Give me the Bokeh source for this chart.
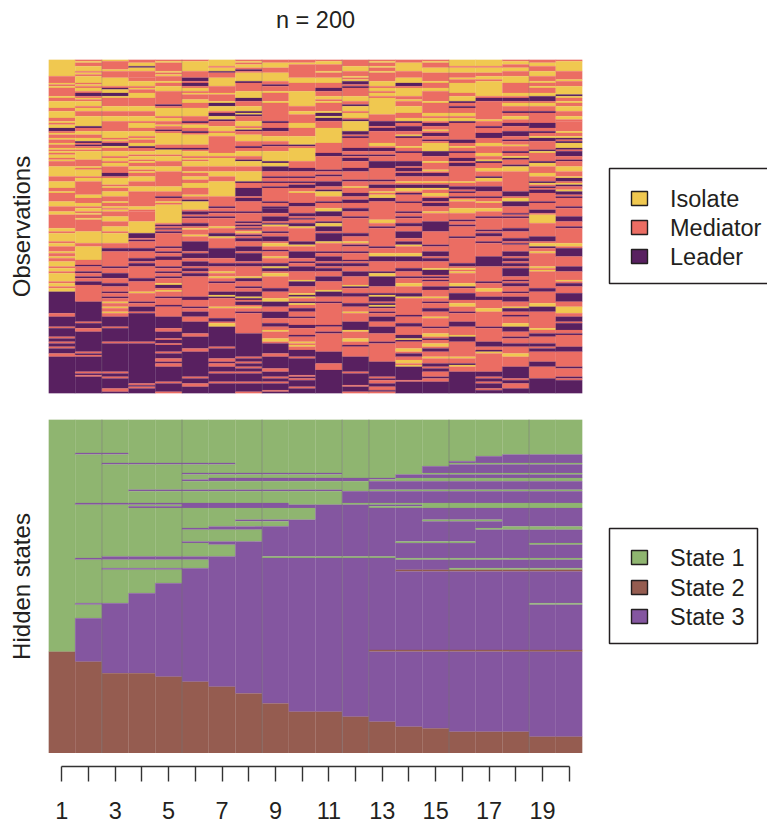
from bokeh.plotting import figure
from bokeh.layouts import column, row
from bokeh.models import ColumnDataSource, FixedTicker, LinearAxis, Range1d
from bokeh.core.properties import value
from bokeh.embed import file_html
from bokeh.resources import INLINE

# Each token: state letter + the row (of 200, counted from the top) at which that run ends.
obs_names = ["Isolate", "Mediator", "Leader"]
obs_colors = ["#F0C850", "#EB6D63", "#582060"]
hid_names = ["State 1", "State 2", "State 3"]
hid_colors = ["#8FB570", "#955C50", "#8456A0"]
title_text = ["n = 200"]

obs_01 = "I10 M14 I15 M16 I17 M22 I23 M25 I29 M31 I35 M37 I38 M39 I41 L43 M44 I45 M47 I48 M50 I51 M53 I54 M55 I56 M57 I59 M60 I61 M64 I70 M73 I77 M79 I80 M85 I88 M91 I93 M101 I103 M104 I109 M110 I112 M115 I116 M118 I119 M121 I124 M125 I127 M128 I133 M134 I136 M137 I139 L152 M154 L160 M161 L166 M167 L169 M170 L172 M173 L176 M178 L200"
obs_02 = "M1 I2 M4 I7 M8 I9 M10 I14 M15 I16 M17 I19 M20 L22 M23 I24 M25 I28 M29 I31 M34 I40 L41 M43 I45 M47 I49 L50 M51 L52 M53 I54 M55 I60 M64 I65 M66 I70 M71 I73 M81 I83 M86 I88 M89 I91 M92 I93 M95 I96 M103 I110 M112 I120 M123 L124 M127 L128 M130 L131 M133 L135 M145 L157 M158 L161 M163 L175 M176 L177 M178 L187 M188 L189 M190 L200"
obs_03 = "I1 M6 I7 M11 I16 M17 L18 I20 L22 I23 M28 I31 M34 I37 M43 I47 M48 I49 M50 L52 I53 M55 I58 M59 I61 M62 I64 M68 L70 M71 I75 M76 I77 M79 I82 M85 I86 M88 I89 M90 I91 M94 I97 M100 I103 M104 I110 M113 L115 M124 L125 M128 L131 M134 L136 M139 L140 M142 L143 M145 I146 M148 I149 M151 I152 M154 L160 M161 L169 M170 L187 M188 L190 M191 L197 M199 L200"
obs_04 = "M2 I4 L5 I7 M11 M13 I16 M17 I18 M20 I23 M28 I31 M34 I37 M38 I41 M43 I46 M47 I48 M50 I52 L53 M55 I57 M58 I60 M61 I62 M64 I66 M67 I68 M70 I73 M76 I79 M80 M88 I90 M91 M97 I104 L107 M108 L109 M113 L115 M119 L121 M122 L124 M131 L133 M139 I140 M145 L146 M148 L151 M152 L169 M170 L194 M195 L196 M197 L200"
obs_05 = "M1 I2 M7 I8 M9 I10 M13 I14 M16 I19 M27 L28 M29 I34 M35 I37 M39 I40 M42 L43 M44 I51 M53 L54 I57 M58 I61 M64 I67 M76 I79 M82 L83 M85 I86 M87 I98 M99 L100 M101 L102 M103 L104 M112 L113 M115 L116 M118 L120 M124 L125 M127 L128 M130 L131 M134 I135 L137 M138 I139 M142 L143 M147 L148 M154 L161 M163 L167 M168 L170 M171 L175 M176 L179 M181 L182 M184 L193 M194 L199 M200"
obs_06 = "M1 I7 M11 L13 M14 L16 M17 I19 M20 I21 M24 I26 M29 I34 M37 L38 M39 I41 M43 L44 M45 I51 M53 L54 M55 I58 M59 I60 M61 I64 M67 I68 M70 I72 M74 I77 M81 I82 M84 L85 I90 M91 L93 M94 L95 M98 L100 M101 I102 M105 I106 M109 L115 M116 L119 M121 L124 M125 L127 M128 L130 M142 L144 M148 L149 M151 L154 M157 L164 M166 L173 M175 L190 M191 L194 M196 L200"
obs_07 = "I4 M5 I7 L8 M11 I16 M20 I21 M25 I26 L28 I31 M32 L34 I36 L37 M40 I43 M44 I46 M56 I58 M59 I64 M67 I70 M73 I82 M88 L89 M91 L92 M94 L95 M100 I101 M104 L106 I107 M113 L119 M122 L124 M127 I128 M130 I131 M133 L134 M139 L141 I142 L143 M148 I149 M155 L157 M158 I160 L172 M173 L179 M181 L182 M184 L187 M188 L193 M194 L200"
obs_08 = "M1 I2 M3 I5 M6 L7 M8 I13 L14 M19 I23 L25 M28 I31 L32 I33 L34 M37 I40 M41 I42 L43 M45 I49 M52 L53 M55 I58 M60 L61 I64 M67 I73 L74 M77 L82 M83 L85 M91 L92 M97 L98 M99 L100 M101 L102 M103 I104 M105 L106 M107 L109 M112 L115 M116 L121 M122 L124 M130 I131 L133 M136 L137 M139 L142 I143 L144 M145 L147 M148 I149 M151 L152 M164 L178 M179 L181 M182 L184 M185 L187 M188 L193 M194 L199 M200"
obs_09 = "M2 I5 M8 I13 M15 L16 M19 I20 M25 I26 M37 L38 M41 L43 M46 I49 M51 L52 M55 I61 L62 I64 L67 M70 L71 M73 L74 M76 L77 M85 L86 M88 L89 L92 M94 L97 M98 L99 I100 M103 L104 M106 L109 M110 I112 M114 L115 M118 I119 M122 L124 I125 L127 M128 I130 M137 L139 M143 I145 L148 M151 L155 M158 L160 M162 I163 M167 I169 M170 L176 M178 L185 M187 L190 M191 L193 M194 L198 M199 L200"
obs_10 = "M2 I3 M11 I14 M19 I28 M31 I33 M38 I41 M46 I51 L52 M53 I61 M65 L67 M70 L71 M73 L74 M75 L77 M79 I80 M86 L88 M92 L94 M95 L96 M98 L100 I101 M109 L111 I112 M115 L119 M121 L122 M124 L127 M132 I133 L136 M140 I141 L142 I143 M145 L146 I147 M149 L151 M154 L155 M159 L161 M165 L166 M169 I170 M171 I172 M174 L178 M179 L189 M190 L191 M192 L196 M197 L200"
obs_11 = "M1 I3 M7 I8 M11 I14 M17 L19 M22 I24 M25 I26 M31 I32 L34 I35 L37 M41 I50 M56 L58 M66 L67 M69 L70 M73 L76 M78 L79 I82 M85 L86 M89 I91 L94 M97 L98 I100 L103 M104 L109 I110 M115 L116 M118 L121 M122 L124 M125 L127 M130 L133 M138 I139 L142 M145 L146 M159 L160 M163 L164 M175 L182 M186 L200"
obs_12 = "M4 I7 M10 I11 M12 I13 L15 M16 L17 M22 I25 M27 L28 I31 M32 I35 M36 L37 I43 L45 M46 L47 M53 L55 M57 L58 M59 L61 M65 L67 M72 L73 M76 I77 M80 L82 M84 L86 M89 L91 M94 L95 M104 L106 M109 I110 M111 L112 M115 L116 M120 L121 M122 L124 M127 L130 M135 I136 L137 M140 L142 M146 L148 M151 I152 M157 L162 I163 M167 I169 M171 L172 M178 L187 M188 L195 M196 L199 M200"
obs_13 = "M1 I2 M4 I5 M7 I8 M13 I16 M17 I19 M20 I22 M23 I33 M37 L40 M41 L43 M50 I52 M53 L55 M57 L58 M61 L65 M72 L73 M75 L77 M79 I80 M81 I83 L85 M96 I98 M100 L101 M112 L113 M116 I118 L121 M127 L128 I130 L136 M140 L141 I142 L145 M146 L147 I148 L149 M151 L152 M154 L157 M160 L164 M169 L170 M181 L190 M191 L192 M194 L196 M198 L199 M200"
obs_14 = "M2 I7 M11 I14 L16 M17 I22 M24 I25 M28 I32 M35 I37 L38 M40 L43 M45 I46 L47 M52 I53 M55 L56 M61 L64 M65 L67 M68 L70 M73 I74 M75 L77 I79 M80 L81 M85 L86 M91 L92 M94 L95 M98 L100 M103 L107 M109 L111 I112 M116 I118 L121 M125 L127 M130 L131 M134 I136 M140 L142 I143 M153 L154 M158 L160 M165 L167 I168 L169 M173 I175 M176 L178 M180 I182 M183 I184 L192 M193 L200"
obs_15 = "M1 I2 M5 I8 M13 I14 M17 I19 M25 I26 M32 I34 M35 I37 M38 L40 M42 I43 M44 L46 M48 L49 M50 I55 L58 M61 I62 M66 I67 M68 L70 M73 I74 M75 L77 I78 M80 I82 M83 L85 M86 L88 M91 I92 M97 L103 M111 L112 M115 L118 M119 L121 M125 I126 L129 M130 L131 M132 L133 M136 L138 M142 I143 M145 L146 M149 L151 M154 I155 M160 L161 M164 I166 M167 L168 M170 I172 M173 L175 M178 I179 M182 L184 M185 L187 M190 L191 M193 L200"
obs_16 = "I4 M5 I8 M11 I12 M14 I20 M22 I25 L26 M28 L29 M32 I34 M35 I37 L38 M48 L50 M52 I53 M55 L56 M59 L61 M62 L64 M73 I74 M76 L78 M79 L80 M82 L83 M84 I85 M89 I92 M96 L97 M99 L100 M106 L107 M122 L124 M125 I126 M127 I128 M134 I136 L137 M140 L144 M146 I148 M151 L152 M157 L160 M165 I166 L169 M178 I179 M182 L183 I184 M187 L200"
obs_17 = "I4 M5 I8 M10 I12 M13 I22 M23 L25 M36 I37 M40 L41 M44 L47 M50 I52 M56 I58 M60 I61 L62 M65 I67 M70 L71 I73 M76 L79 M82 L83 M85 I86 M89 I91 M94 L95 M102 L103 M104 L106 M109 L110 M118 L124 M133 L134 M137 I139 M142 L144 M149 I151 M160 L161 M169 L172 M174 L175 I176 M187 L190 M191 L193 M194 L197 M198 L200"
obs_18 = "M1 I3 M5 I7 M10 I14 M20 I22 M23 L25 M26 I28 M31 L32 M34 I36 M38 L40 M43 L46 M48 L49 M51 I52 M55 L56 M58 I59 L60 M63 L64 I67 M79 L82 M83 I85 L88 M92 L93 M94 L95 M101 L103 M107 L109 M110 L111 M115 L118 M119 L121 M122 L124 M125 L130 M132 L133 M134 L136 M139 L140 M142 L145 M148 I149 L151 M153 L154 M158 I160 L163 M166 L167 M170 L172 M176 I178 M184 L191 M192 L194 M197 L200"
obs_19 = "M2 I4 M7 I10 M13 I14 M16 I17 M20 I22 L25 M26 I28 M31 L32 M38 L41 M43 L44 M46 I47 L49 M54 L55 I56 M61 L62 I64 M68 I70 M73 L74 I75 M76 L77 M78 L80 M85 L86 M90 L92 M93 I98 M106 L109 M110 I112 L113 M115 I116 M124 I125 M126 I127 M137 L139 M146 I148 L151 M161 I162 M164 L166 M170 L172 M173 L175 M181 L184 M191 L200"
obs_20 = "M1 I7 M12 I13 M16 I21 L22 I23 M25 I26 M28 I31 M34 I36 M37 M43 I44 M46 I47 L48 M49 L50 I53 L54 M55 L58 M60 L61 M64 I67 M70 I71 L73 M74 I75 L76 M78 I79 L81 M82 L83 M88 L89 M94 L97 M100 L101 M110 I112 M113 L118 M124 L127 M132 I133 M134 L136 M140 L145 M148 I152 M154 L157 M158 L162 M164 L165 M172 L175 M184 L185 M190 L191 M192 L200"
obs_columns = [obs_01, obs_02, obs_03, obs_04, obs_05, obs_06, obs_07, obs_08, obs_09, obs_10,
               obs_11, obs_12, obs_13, obs_14, obs_15, obs_16, obs_17, obs_18, obs_19, obs_20]

hid_01 = "A139 B200"
hid_02 = "A20 C21 A50 C51 A83 C84 A110 C111 A119 C145 B200"
hid_03 = "A20 C21 A26 C27 A50 C51 A82 C84 A89 C90 A110 C152 B200"
hid_04 = "A26 C27 A42 C43 A50 C51 A52 C53 A82 C84 A89 C90 A104 C152 B200"
hid_05 = "A26 C27 A42 C43 A50 C51 A52 C53 A82 C84 A89 C90 A98 C154 B200"
hid_06 = "A26 C27 A32 C33 A36 C37 A42 C43 A50 C53 A65 C66 A73 C74 A82 C84 A89 C157 B200"
hid_07 = "A26 C27 A32 C33 A35 C37 A42 C43 A50 C53 A64 C66 A73 C75 A82 C160 B200"
hid_08 = "A32 C33 A35 C37 A42 C43 A50 C53 A60 C61 A64 C66 A73 C164 B200"
hid_09 = "A32 C33 A35 C37 A42 C43 A50 C53 A60 C61 A64 C82 A83 C170 B200"
hid_10 = "A32 C33 A35 C37 A42 C43 A51 C53 A60 C82 A83 C175 B200"
hid_11 = "A32 C33 A35 C37 A42 C43 A51 C82 A83 C175 B200"
hid_12 = "A35 C37 A43 C50 A51 C82 A83 C178 B200"
hid_13 = "A35 C36 A37 C42 A43 C50 A51 C52 A53 C82 A83 C138 B139 C181 B200"
hid_14 = "A33 C35 A37 C42 A43 C50 A51 C52 A53 C73 A74 C83 A84 C90 B91 C138 B139 C184 B200"
hid_15 = "A28 C32 A33 C35 A37 C42 A43 C50 A53 C60 A61 C73 A74 C83 A84 C90 B91 C138 B139 C185 B200"
hid_16 = "A25 C26 A27 C32 A33 C35 A37 C42 A43 C50 A53 C60 A61 C73 A74 C83 A84 C89 A90 B91 C138 B139 C187 B200"
hid_17 = "A22 C26 A27 C32 A33 C35 A37 C42 A43 C50 A53 C60 A61 C65 A66 C83 A84 C89 A90 B91 C138 B139 C187 B200"
hid_18 = "A21 C26 A27 C32 A33 C35 A37 C42 A43 C50 A53 C64 A66 C83 A84 C89 A90 B91 C138 B139 C187 B200"
hid_19 = "A21 C26 A27 C32 A33 C35 A37 C42 A43 C50 A53 C64 A66 C74 A75 C83 A84 C89 A90 B91 C110 A111 C138 B139 C190 B200"
hid_20 = "A21 C26 A27 C32 A33 C35 A37 C42 A43 C50 A53 C64 A66 C74 A75 C83 A84 C89 A90 B91 C110 A111 C138 B139 C190 B200"
hid_columns = [hid_01, hid_02, hid_03, hid_04, hid_05, hid_06, hid_07, hid_08, hid_09, hid_10,
               hid_11, hid_12, hid_13, hid_14, hid_15, hid_16, hid_17, hid_18, hid_19, hid_20]

time_points = list(range(1, 21))
tick_labels = {t: (str(t) if t % 2 else "") for t in time_points}
# column boundaries where the reference shows a visible seam
strong_seams = [2, 5, 8, 11, 12, 15, 18]
n_rows = 200

FONT = "Liberation Sans"
FS = "23.5px"
INK = "#231F20"


def runs(columns, letters, colors):
    data = dict(left=[], right=[], top=[], bottom=[], color=[])
    for t, spec in zip(time_points, columns):
        start = 0
        for token in spec.split():
            end = int(token[1:])
            if end <= start:
                continue
            data["left"].append(t - 0.5)
            data["right"].append(t + 0.5)
            data["top"].append(start)
            data["bottom"].append(end)
            data["color"].append(colors[letters.index(token[0])])
            start = end
    return ColumnDataSource(data)


def panel(source, ylabel, height, top, bottom, seam_alpha):
    p = figure(width=590, height=height, output_backend="svg", toolbar_location=None,
               x_range=Range1d(0.5, 20.5), y_range=Range1d(n_rows, 0),
               x_axis_type=None, y_axis_type=None,
               min_border_left=48, min_border_right=8, min_border_top=top, min_border_bottom=bottom)
    p.grid.visible = False
    p.outline_line_color = None
    p.quad(left="left", right="right", top="top", bottom="bottom", source=source,
           fill_color="color", line_color="color", line_width=0.2)
    for s in strong_seams:
        p.segment(x0=[s + 0.5], y0=[0], x1=[s + 0.5], y1=[n_rows], line_color="#777777",
                  line_alpha=seam_alpha, line_width=1)
    ax = LinearAxis(ticker=FixedTicker(ticks=[]), axis_label=ylabel)
    ax.axis_line_color = None
    ax.major_tick_line_color = None
    ax.minor_tick_line_color = None
    ax.major_label_text_font_size = "0px"
    ax.axis_label_text_font = FONT
    ax.axis_label_text_font_size = "24px"
    ax.axis_label_text_font_style = "normal"
    ax.axis_label_text_color = INK
    ax.axis_label_standoff = 14
    p.add_layout(ax, "left")
    return p


def legend_panel(names, colors, height, top, bottom, y_top, y_bottom, box_top, box_bottom, box_right, centers):
    # row() lines up the plot frames, so this frame spans the same page rows as its neighbour
    p = figure(width=177, height=height, output_backend="svg", toolbar_location=None,
               x_range=Range1d(0, 177), y_range=Range1d(y_bottom, y_top),
               x_axis_type=None, y_axis_type=None,
               min_border_left=0, min_border_right=0, min_border_top=top, min_border_bottom=bottom)
    p.grid.visible = False
    p.outline_line_color = None
    p.quad(left=[19], right=[box_right], top=[box_top], bottom=[box_bottom],
           fill_color="white", line_color=INK, line_width=1.5)
    p.quad(left=[41] * 3, right=[57] * 3, top=[c - 7 for c in centers], bottom=[c + 7 for c in centers],
           fill_color=colors, line_color=INK, line_width=1.4)
    p.text(x=[79.5] * 3, y=centers, text=names, text_font=value(FONT), text_font_size=value(FS),
           text_color=INK, text_baseline="middle", text_align="left")
    return p


head = figure(width=590, height=40, output_backend="svg", toolbar_location=None,
              x_range=Range1d(0.5, 20.5), y_range=Range1d(40, 0),
              x_axis_type=None, y_axis_type=None,
              min_border_left=48, min_border_right=8, min_border_top=0, min_border_bottom=0)
head.grid.visible = False
head.outline_line_color = None
head.text(x=[10.5], y=[19], text=title_text, text_font=value(FONT), text_font_size=value(FS),
          text_color=INK, text_baseline="middle", text_align="center")

obs = panel(runs(obs_columns, "IML", obs_colors), "Observations", 366, 19, 13, 0.3)
hid = panel(runs(hid_columns, "ABC", hid_colors), "Hidden states", 347, 13, 0, 0.55)

obs_leg = legend_panel(obs_names, obs_colors, 366, 19, 13, 59, 393, 168, 283, 400, [198, 227, 256])
hid_leg = legend_panel(hid_names, hid_colors, 347, 13, 0, 419, 753, 528, 643, 167, [557, 587, 616])

axf = figure(width=590, height=72, output_backend="svg", toolbar_location=None,
             x_range=Range1d(0.5, 20.5), y_range=Range1d(0, 1),
             x_axis_type=None, y_axis_type=None,
             min_border_left=48, min_border_right=8, min_border_top=12, min_border_bottom=59)
axf.grid.visible = False
axf.outline_line_color = None
xa = LinearAxis(ticker=FixedTicker(ticks=time_points), major_label_overrides=tick_labels)
xa.bounds = (1, 20)
xa.axis_line_color = "#333333"
xa.axis_line_width = 1.4
xa.major_tick_line_color = "#333333"
xa.major_tick_line_width = 1.4
xa.major_tick_in = 0
xa.major_tick_out = 15
xa.minor_tick_line_color = None
xa.major_label_standoff = 20
xa.major_label_text_font = FONT
xa.major_label_text_font_size = FS
xa.major_label_text_color = INK
axf.add_layout(xa, "below")

layout = column(head, row(obs, obs_leg), row(hid, hid_leg), axf, spacing=0)
open("out.html", "w").write(file_html(layout, INLINE))
